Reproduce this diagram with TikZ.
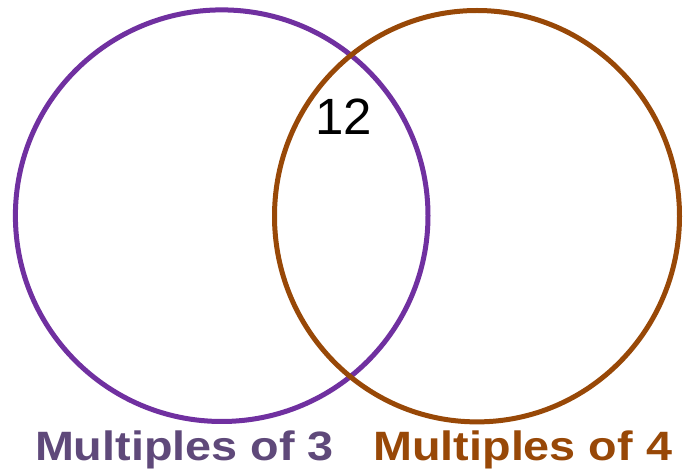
\documentclass[tikz,border=0pt]{standalone}
\usepackage{fontspec}
\setmainfont{Liberation Sans}
\definecolor{setpurple}{HTML}{7030A0}
\definecolor{setbrown}{HTML}{984807}
\definecolor{labpurple}{HTML}{5F497A}
\definecolor{labbrown}{HTML}{984807}
\begin{document}
\begin{tikzpicture}[x=1pt,y=1pt,
  setline/.style={line width=5pt},
  setlabel/.style={inner sep=0pt, anchor=base west, font=\fontsize{41}{46}\selectfont\bfseries},
  numlabel/.style={inner sep=0pt, anchor=base west, font=\fontsize{51}{56}\selectfont}]
\useasboundingbox (0,0) rectangle (683,474);
\fill[white] (0,0) rectangle (683,474);
\draw[setline, setpurple] (221.7,258.3) ellipse [x radius=206.3, y radius=205.8];
\draw[setline, setbrown] (477,257.8) ellipse [x radius=202.5, y radius=205.7];
\node[numlabel] (n12) at (315.1,339) {12};
\node[setlabel, text=labpurple] (l3) at (34.8,13.3) {\scalebox{1.14}[1]{Multiples of 3}};
\node[setlabel, text=labbrown] (l4) at (373.2,13.3) {\scalebox{1.14}[1]{Multiples of 4}};
\end{tikzpicture}
\end{document}
